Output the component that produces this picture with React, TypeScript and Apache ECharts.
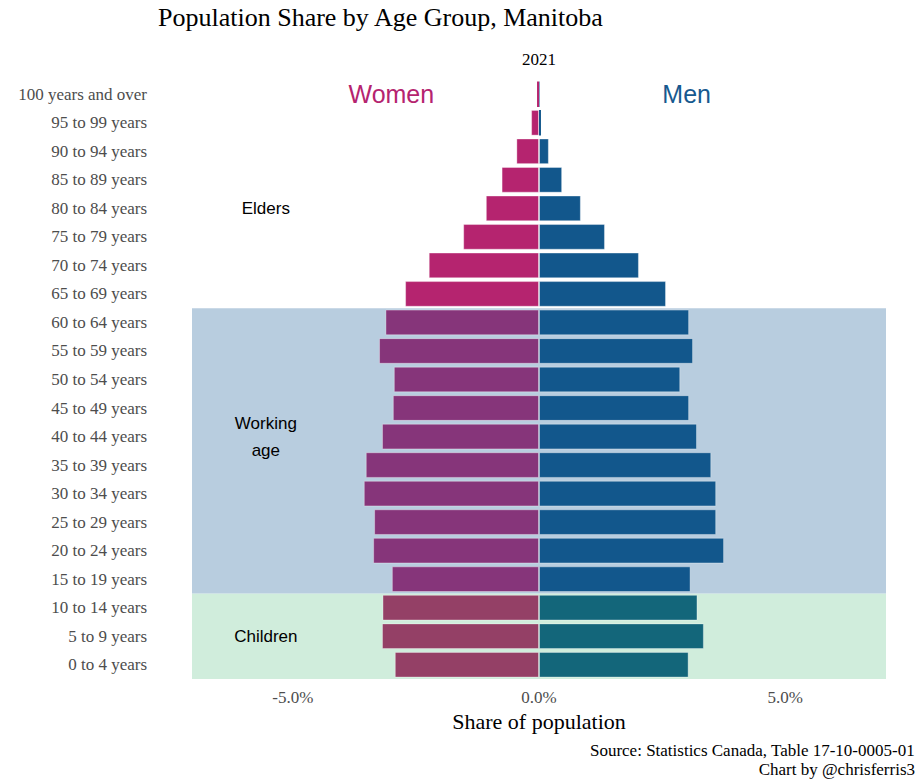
import React, { useEffect, useRef } from "react";
import * as echarts from "echarts";

const ageGroups = [
  "0 to 4 years", "5 to 9 years", "10 to 14 years", "15 to 19 years", "20 to 24 years",
  "25 to 29 years", "30 to 34 years", "35 to 39 years", "40 to 44 years", "45 to 49 years",
  "50 to 54 years", "55 to 59 years", "60 to 64 years", "65 to 69 years", "70 to 74 years",
  "75 to 79 years", "80 to 84 years", "85 to 89 years", "90 to 94 years", "95 to 99 years",
  "100 years and over",
];
// share of population (%), women shown negative
const women = [
  -2.93, -3.19, -3.18, -2.99, -3.37, -3.35, -3.56, -3.52, -3.19, -2.97,
  -2.95, -3.25, -3.12, -2.72, -2.24, -1.54, -1.08, -0.76, -0.46, -0.16, -0.04,
];
const men = [
  3.04, 3.35, 3.22, 3.08, 3.76, 3.6, 3.6, 3.5, 3.21, 3.05,
  2.87, 3.13, 3.05, 2.58, 2.03, 1.34, 0.85, 0.47, 0.2, 0.04, 0.01,
];
// group of each age category
const groupOf = (i: number) => (i <= 2 ? "child" : i <= 12 ? "work" : "elder");
const womenColors: Record<string, string> = { child: "#944066", work: "#86357a", elder: "#b5246f" };
const menColors: Record<string, string> = { child: "#13667a", work: "#12578c", elder: "#12578c" };

const xTicks = [-5, 0, 5];
const bands = [
  { from: 0, to: 2, color: "#d0eddc" },
  { from: 3, to: 12, color: "#b8cddf" },
];
const groupLabels = [
  { x: -5.55, cat: "80 to 84 years", text: "Elders" },
  { x: -5.55, cat: "40 to 44 years", text: "Working\nage" },
  { x: -5.55, cat: "5 to 9 years", text: "Children" },
];
const sexLabels = [
  { x: -3.0, cat: "100 years and over", text: "Women", color: "#b5246f" },
  { x: 3.0, cat: "100 years and over", text: "Men", color: "#17598f" },
];

const XMIN = -7.05;
const XMAX = 7.05;

export default function App() {
  const ref = useRef<HTMLDivElement>(null);
  useEffect(() => {
    if (!ref.current) return;
    const chart = echarts.init(ref.current, undefined, { renderer: "svg" });
    const serif = "Liberation Serif, Times New Roman, serif";
    const sans = "Liberation Sans, Arial, sans-serif";
    const barBorder = (v: number) =>
      Math.abs(v) < 0.1
        ? { borderWidth: 0 }
        : { borderColor: "rgba(255,255,255,0.35)", borderWidth: 1 };
    const plainText = (size: number) => ({
      fontFamily: serif,
      fontSize: size,
      fontWeight: "normal",
      color: "#000",
    });
    chart.setOption({
      animation: false,
      backgroundColor: "#ffffff",
      title: [
        {
          text: "Population Share by Age Group, Manitoba",
          left: 158,
          top: 4,
          padding: 0,
          textStyle: plainText(26),
        },
        {
          text: "2021",
          left: 539,
          top: 51,
          padding: 0,
          textAlign: "center",
          textStyle: plainText(17),
        },
        {
          text: "Source: Statistics Canada, Table 17-10-0005-01",
          right: 7,
          top: 742,
          padding: 0,
          textStyle: plainText(17),
        },
        {
          text: "Chart by @chrisferris3",
          right: 7,
          top: 761,
          padding: 0,
          textStyle: plainText(17),
        },
      ],
      grid: { left: 192, right: 36, top: 80, bottom: 101 },
      xAxis: {
        type: "value",
        min: XMIN,
        max: XMAX,
        axisLine: { show: false },
        axisTick: { show: false },
        splitLine: { show: false },
        axisLabel: {
          customValues: xTicks,
          formatter: (v: number) => v.toFixed(1) + "%",
          fontFamily: serif,
          fontSize: 17,
          color: "#4d4d4d",
          margin: 10,
        },
        name: "Share of population",
        nameLocation: "middle",
        nameGap: 30,
        nameTextStyle: { fontFamily: serif, fontSize: 22, color: "#000" },
      },
      yAxis: {
        type: "category",
        data: ageGroups,
        axisLine: { show: false },
        axisTick: { show: false },
        splitLine: { show: false },
        axisLabel: { fontFamily: serif, fontSize: 17, color: "#4d4d4d", margin: 45 },
      },
      series: [
        {
          type: "custom",
          z: 1,
          silent: true,
          data: bands.map((b) => [XMIN, XMAX, b.from, b.to]),
          renderItem: (params: any, api: any) => {
            const p0 = api.coord([api.value(0), api.value(2)]);
            const p1 = api.coord([api.value(1), api.value(3)]);
            const h = api.size([0, 1])[1];
            const top = p1[1] - h / 2;
            const bottom = p0[1] + h / 2;
            const color = bands[params.dataIndex].color;
            return {
              type: "rect",
              shape: { x: p0[0], y: top, width: p1[0] - p0[0], height: bottom - top },
              style: { fill: color },
            };
          },
        },
        {
          name: "Women",
          type: "bar",
          z: 3,
          barWidth: "90%",
          barGap: "-100%",
          barMinHeight: 0,
          data: women.map((v, i) => ({
            value: v,
            itemStyle: { color: womenColors[groupOf(i)], ...barBorder(v) },
          })),
        },
        {
          name: "Men",
          type: "bar",
          z: 3,
          barWidth: "90%",
          barGap: "-100%",
          data: men.map((v, i) => ({
            value: v,
            itemStyle: { color: menColors[groupOf(i)], ...barBorder(v) },
          })),
        },
        {
          type: "scatter",
          z: 5,
          silent: true,
          symbolSize: 0,
          itemStyle: { opacity: 1 },
          data: groupLabels.map((g) => ({ value: [g.x, g.cat], name: g.text })),
          label: {
            show: true,
            position: "inside",
            formatter: (p: any) => p.name,
            fontFamily: sans,
            fontSize: 17,
            lineHeight: 27,
            color: "#000",
            opacity: 1,
            align: "center",
          },
        },
        {
          type: "scatter",
          z: 5,
          silent: true,
          symbolSize: 0,
          itemStyle: { opacity: 1 },
          data: sexLabels.map((g) => ({
            value: [g.x, g.cat],
            name: g.text,
            label: { color: g.color },
          })),
          label: {
            show: true,
            position: "inside",
            formatter: (p: any) => p.name,
            fontFamily: sans,
            fontSize: 25,
            opacity: 1,
            align: "center",
          },
        },
      ],
    });
    return () => chart.dispose();
  }, []);
  return (
    <div
      ref={ref}
      style={{ position: "fixed", left: 0, top: 0, width: 922, height: 780, background: "#fff" }}
    />
  );
}
